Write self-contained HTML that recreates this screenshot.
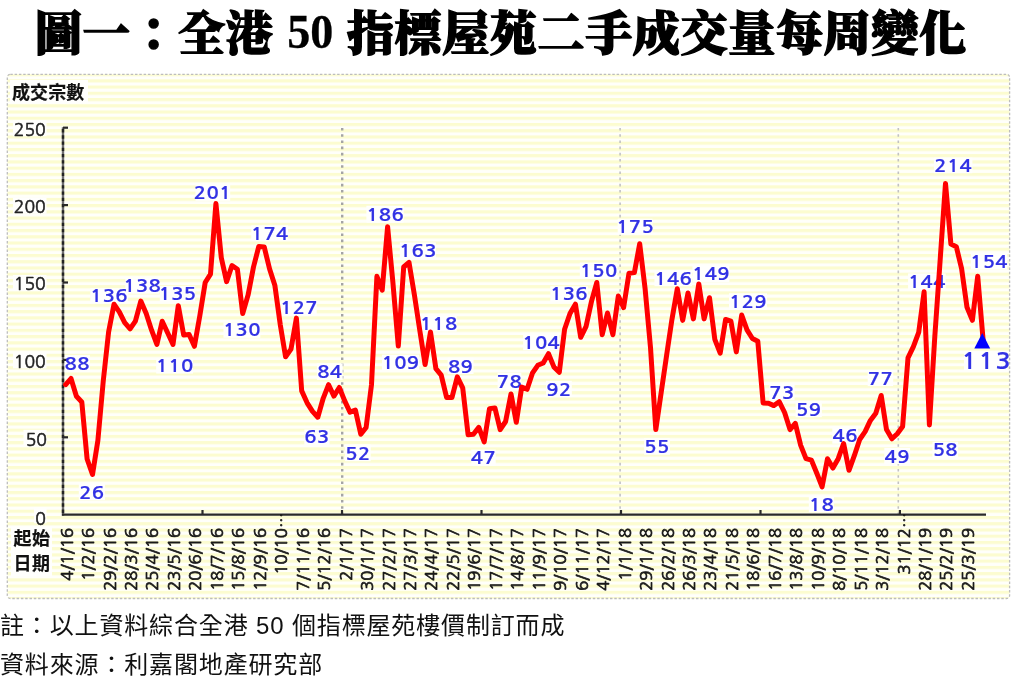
<!DOCTYPE html>
<html><head><meta charset="utf-8">
<style>
html,body{margin:0;padding:0;background:#fff;width:1024px;height:683px;overflow:hidden}
.t{position:absolute;left:0;top:0;white-space:nowrap}
#title{position:absolute;left:35px;top:-1.5px;font-family:"Liberation Serif","Noto Serif CJK TC","Noto Serif CJK SC",serif;font-weight:900;font-size:47px;line-height:70px;color:#000;white-space:nowrap;letter-spacing:0.68px;-webkit-text-stroke:1.5px #000}
#title .n{font-family:"Liberation Serif",serif;font-weight:bold;-webkit-text-stroke:0.3px #000;font-size:48.5px;display:inline-block;transform:scaleX(0.95);position:relative;top:-2px;letter-spacing:0}
.note{position:absolute;left:0px;font-family:"Liberation Sans","Noto Sans CJK TC","Noto Sans CJK SC",sans-serif;font-size:24px;line-height:30px;color:#111;white-space:nowrap;letter-spacing:0.85px}
svg{position:absolute;left:0;top:0}
</style></head><body>
<div id="title">圖一：全港 <span class="n">50</span> 指標屋苑二手成交量每周變化</div>
<svg width="1024" height="683" viewBox="0 0 1024 683">
<defs>
<pattern id="st" x="0" y="73.05" width="8" height="6.238" patternUnits="userSpaceOnUse">
<rect width="8" height="6.238" fill="#fffffa"/>
<rect y="0" width="8" height="3.1" fill="#fcfcd0"/>
</pattern>
</defs>
<rect x="7.3" y="74.3" width="1002.3" height="524.2" rx="3" fill="url(#st)" stroke="#bdbdbd" stroke-width="1.3" stroke-dasharray="2.5 1.8"/>
<g fill="#fffffd"><rect x="10" y="80" width="78" height="23"/><rect x="11" y="527" width="41" height="49"/></g>
<g font-family="'Liberation Sans','Noto Sans CJK TC','Noto Sans CJK SC',sans-serif" font-weight="bold" font-size="18" fill="#111" stroke="#111" stroke-width="0.2">
<text x="12" y="98.8" letter-spacing="0.1">成交宗數</text>
<text x="13.5" y="545" letter-spacing="0.4">起始</text>
<text x="13.5" y="570" letter-spacing="0.4">日期</text>
</g>
<g stroke-dasharray="2.6 3.6">
<line x1="342.2" y1="128" x2="342.2" y2="514" stroke="#a4a4a4" stroke-width="2.4"/>
<line x1="620.1" y1="128" x2="620.1" y2="514" stroke="#c2c2c2" stroke-width="1.6"/>
<line x1="898.3" y1="128" x2="898.3" y2="514" stroke="#c2c2c2" stroke-width="1.6"/>
</g>
<g fill="#fffffd"><rect x="64.5" y="355.2" width="25.5" height="16.5"/><rect x="78.8" y="483.2" width="26.1" height="16.9"/><rect x="90.3" y="288.3" width="37.5" height="14.9"/><rect x="125.4" y="278.1" width="33.9" height="15.6"/><rect x="159.8" y="286.1" width="35.4" height="15.6"/><rect x="156.2" y="357.9" width="36.8" height="15.6"/><rect x="195.5" y="184.3" width="34.7" height="16.5"/><rect x="223.5" y="322.3" width="36.8" height="15.5"/><rect x="251.3" y="225.4" width="36.8" height="15.6"/><rect x="281.3" y="300.3" width="35.4" height="15.6"/><rect x="304.4" y="429.4" width="25.1" height="15.5"/><rect x="316.9" y="363.4" width="25.8" height="16.4"/><rect x="345.1" y="444.3" width="25.6" height="16.9"/><rect x="366.4" y="205.8" width="37.3" height="16.8"/><rect x="382.0" y="354.7" width="37.1" height="15.6"/><rect x="399.8" y="242.4" width="36.1" height="16.3"/><rect x="420.6" y="315.9" width="36.1" height="15.6"/><rect x="447.7" y="357.6" width="25.8" height="16.4"/><rect x="471.3" y="449.6" width="24.4" height="16.1"/><rect x="497.6" y="372.7" width="23.7" height="16.3"/><rect x="546.0" y="380.8" width="25.8" height="16.3"/><rect x="523.2" y="334.6" width="36.1" height="15.6"/><rect x="550.3" y="286.3" width="37.5" height="15.5"/><rect x="579.8" y="262.6" width="37.6" height="15.6"/><rect x="617.7" y="218.7" width="34.8" height="16.1"/><rect x="644.2" y="438.2" width="25.7" height="16.5"/><rect x="654.5" y="270.7" width="37.5" height="15.5"/><rect x="692.5" y="265.5" width="36.9" height="16.4"/><rect x="729.0" y="293.3" width="38.0" height="16.2"/><rect x="769.3" y="383.2" width="25.2" height="16.9"/><rect x="795.6" y="400.8" width="26.2" height="16.4"/><rect x="808.8" y="495.9" width="25.1" height="16.3"/><rect x="832.3" y="427.4" width="25.8" height="16.3"/><rect x="867.7" y="369.8" width="25.5" height="16.3"/><rect x="884.3" y="447.9" width="25.8" height="16.3"/><rect x="908.1" y="273.4" width="37.6" height="15.9"/><rect x="932.5" y="441.8" width="25.6" height="15.7"/><rect x="933.9" y="157.6" width="38.5" height="15.6"/><rect x="970.8" y="253.5" width="36.4" height="15.9"/><rect x="964" y="351.5" width="44" height="19"/></g>
<g stroke="#2a2a2a" stroke-width="2.2">
<line x1="63" y1="127.2" x2="63" y2="515.8" stroke="#707070" stroke-width="2.4"/><line x1="63" y1="127.2" x2="63" y2="515.8" stroke="#242424" stroke-width="2.4" stroke-dasharray="3.3 2.938" stroke-dashoffset="4.35"/>
<line x1="61.9" y1="514.7" x2="986" y2="514.7"/>
<line x1="63" y1="437.3" x2="68" y2="437.3"/><line x1="63" y1="359.9" x2="68" y2="359.9"/><line x1="63" y1="282.5" x2="68" y2="282.5"/><line x1="63" y1="205.1" x2="68" y2="205.1"/><line x1="63" y1="127.7" x2="68" y2="127.7"/>
<line x1="202.5" y1="510" x2="202.5" y2="515"/><line x1="342.0" y1="510" x2="342.0" y2="515"/><line x1="481.5" y1="510" x2="481.5" y2="515"/><line x1="621.0" y1="510" x2="621.0" y2="515"/><line x1="760.5" y1="510" x2="760.5" y2="515"/><line x1="899.9" y1="510" x2="899.9" y2="515"/>
</g>
<g fill="#fffffd"><rect x="34.0" y="507.2" width="12.5" height="16"/><rect x="23.5" y="429.8" width="23.0" height="16"/><rect x="13.0" y="352.4" width="33.5" height="16"/><rect x="13.0" y="275.0" width="33.5" height="16"/><rect x="13.0" y="197.6" width="33.5" height="16"/><rect x="13.0" y="120.2" width="33.5" height="16"/></g>
<g font-family="'NanumGothic','Liberation Sans',sans-serif" font-size="17.6" fill="#222" stroke="#222" stroke-width="0.55">
<text transform="translate(45.8,524.8) scale(1.0,1)" text-anchor="end">0</text>
<text transform="translate(47.0,445.9) scale(1.0,1)" text-anchor="end">50</text>
<text transform="translate(45.8,367.8) scale(1.0,1)" text-anchor="end">100</text>
<text transform="translate(45.8,290.4) scale(1.0,1)" text-anchor="end">150</text>
<text transform="translate(45.8,213.0) scale(1.0,1)" text-anchor="end">200</text>
<text transform="translate(45.8,135.6) scale(1.0,1)" text-anchor="end">250</text>
</g>
<g font-family="'NanumGothic','Liberation Sans',sans-serif" font-size="16.6" fill="#1a1a1a" stroke="#1a1a1a" stroke-width="0.75">
<text transform="translate(66.7,528.0) rotate(-90) scale(1.0,1)" text-anchor="end" dy="0.36em">4/1/16</text>
<text transform="translate(88.1,528.0) rotate(-90) scale(1.0,1)" text-anchor="end" dy="0.36em">1/2/16</text>
<text transform="translate(109.6,528.0) rotate(-90) scale(1.0,1)" text-anchor="end" dy="0.36em">29/2/16</text>
<text transform="translate(131.1,528.0) rotate(-90) scale(1.0,1)" text-anchor="end" dy="0.36em">28/3/16</text>
<text transform="translate(152.5,528.0) rotate(-90) scale(1.0,1)" text-anchor="end" dy="0.36em">25/4/16</text>
<text transform="translate(174.0,528.0) rotate(-90) scale(1.0,1)" text-anchor="end" dy="0.36em">23/5/16</text>
<text transform="translate(195.4,528.0) rotate(-90) scale(1.0,1)" text-anchor="end" dy="0.36em">20/6/16</text>
<text transform="translate(216.9,528.0) rotate(-90) scale(1.0,1)" text-anchor="end" dy="0.36em">18/7/16</text>
<text transform="translate(238.4,528.0) rotate(-90) scale(1.0,1)" text-anchor="end" dy="0.36em">15/8/16</text>
<text transform="translate(259.8,528.0) rotate(-90) scale(1.0,1)" text-anchor="end" dy="0.36em">12/9/16</text>
<text transform="translate(281.3,512.5) rotate(-90) scale(1.0,1)" text-anchor="end" dy="0.36em">10/10…</text>
<text transform="translate(302.7,528.0) rotate(-90) scale(1.0,1)" text-anchor="end" dy="0.36em">7/11/16</text>
<text transform="translate(324.2,528.0) rotate(-90) scale(1.0,1)" text-anchor="end" dy="0.36em">5/12/16</text>
<text transform="translate(345.7,528.0) rotate(-90) scale(1.0,1)" text-anchor="end" dy="0.36em">2/1/17</text>
<text transform="translate(367.1,528.0) rotate(-90) scale(1.0,1)" text-anchor="end" dy="0.36em">30/1/17</text>
<text transform="translate(388.6,528.0) rotate(-90) scale(1.0,1)" text-anchor="end" dy="0.36em">27/2/17</text>
<text transform="translate(410.0,528.0) rotate(-90) scale(1.0,1)" text-anchor="end" dy="0.36em">27/3/17</text>
<text transform="translate(431.5,528.0) rotate(-90) scale(1.0,1)" text-anchor="end" dy="0.36em">24/4/17</text>
<text transform="translate(453.0,528.0) rotate(-90) scale(1.0,1)" text-anchor="end" dy="0.36em">22/5/17</text>
<text transform="translate(474.4,528.0) rotate(-90) scale(1.0,1)" text-anchor="end" dy="0.36em">19/6/17</text>
<text transform="translate(495.9,528.0) rotate(-90) scale(1.0,1)" text-anchor="end" dy="0.36em">17/7/17</text>
<text transform="translate(517.3,528.0) rotate(-90) scale(1.0,1)" text-anchor="end" dy="0.36em">14/8/17</text>
<text transform="translate(538.8,528.0) rotate(-90) scale(1.0,1)" text-anchor="end" dy="0.36em">11/9/17</text>
<text transform="translate(560.3,528.0) rotate(-90) scale(1.0,1)" text-anchor="end" dy="0.36em">9/10/17</text>
<text transform="translate(581.7,528.0) rotate(-90) scale(1.0,1)" text-anchor="end" dy="0.36em">6/11/17</text>
<text transform="translate(603.2,528.0) rotate(-90) scale(1.0,1)" text-anchor="end" dy="0.36em">4/12/17</text>
<text transform="translate(624.6,528.0) rotate(-90) scale(1.0,1)" text-anchor="end" dy="0.36em">1/1/18</text>
<text transform="translate(646.1,528.0) rotate(-90) scale(1.0,1)" text-anchor="end" dy="0.36em">29/1/18</text>
<text transform="translate(667.6,528.0) rotate(-90) scale(1.0,1)" text-anchor="end" dy="0.36em">26/2/18</text>
<text transform="translate(689.0,528.0) rotate(-90) scale(1.0,1)" text-anchor="end" dy="0.36em">26/3/18</text>
<text transform="translate(710.5,528.0) rotate(-90) scale(1.0,1)" text-anchor="end" dy="0.36em">23/4/18</text>
<text transform="translate(731.9,528.0) rotate(-90) scale(1.0,1)" text-anchor="end" dy="0.36em">21/5/18</text>
<text transform="translate(753.4,528.0) rotate(-90) scale(1.0,1)" text-anchor="end" dy="0.36em">18/6/18</text>
<text transform="translate(774.9,528.0) rotate(-90) scale(1.0,1)" text-anchor="end" dy="0.36em">16/7/18</text>
<text transform="translate(796.3,528.0) rotate(-90) scale(1.0,1)" text-anchor="end" dy="0.36em">13/8/18</text>
<text transform="translate(817.8,528.0) rotate(-90) scale(1.0,1)" text-anchor="end" dy="0.36em">10/9/18</text>
<text transform="translate(839.2,528.0) rotate(-90) scale(1.0,1)" text-anchor="end" dy="0.36em">8/10/18</text>
<text transform="translate(860.7,528.0) rotate(-90) scale(1.0,1)" text-anchor="end" dy="0.36em">5/11/18</text>
<text transform="translate(882.2,528.0) rotate(-90) scale(1.0,1)" text-anchor="end" dy="0.36em">3/12/18</text>
<text transform="translate(903.6,512.5) rotate(-90) scale(1.0,1)" text-anchor="end" dy="0.36em">31/12…</text>
<text transform="translate(925.1,528.0) rotate(-90) scale(1.0,1)" text-anchor="end" dy="0.36em">28/1/19</text>
<text transform="translate(946.5,528.0) rotate(-90) scale(1.0,1)" text-anchor="end" dy="0.36em">25/2/19</text>
<text transform="translate(968.0,528.0) rotate(-90) scale(1.0,1)" text-anchor="end" dy="0.36em">25/3/19</text>
</g>
<g font-family="'NanumGothic','Liberation Sans',sans-serif" font-weight="bold" font-size="16.9" fill="#3232e4" stroke="#3232e4" stroke-width="0.15" letter-spacing="0.3" text-anchor="middle">
<text transform="translate(77.2,370.2) scale(1.2,1)">88</text>
<text transform="translate(91.8,498.6) scale(1.2,1)">26</text>
<text transform="translate(109.0,301.7) scale(1.2,1)">136</text>
<text transform="translate(142.3,292.2) scale(1.2,1)">138</text>
<text transform="translate(177.5,300.2) scale(1.2,1)">135</text>
<text transform="translate(174.6,372.0) scale(1.2,1)">110</text>
<text transform="translate(212.8,199.3) scale(1.2,1)">201</text>
<text transform="translate(241.9,336.3) scale(1.2,1)">130</text>
<text transform="translate(269.7,239.5) scale(1.2,1)">174</text>
<text transform="translate(299.0,314.4) scale(1.2,1)">127</text>
<text transform="translate(317.0,443.4) scale(1.2,1)">63</text>
<text transform="translate(329.8,378.3) scale(1.2,1)">84</text>
<text transform="translate(357.9,459.7) scale(1.2,1)">52</text>
<text transform="translate(385.1,221.1) scale(1.2,1)">186</text>
<text transform="translate(400.5,368.8) scale(1.2,1)">109</text>
<text transform="translate(417.9,257.2) scale(1.2,1)">163</text>
<text transform="translate(438.6,330.0) scale(1.2,1)">118</text>
<text transform="translate(460.6,372.5) scale(1.2,1)">89</text>
<text transform="translate(483.5,464.2) scale(1.2,1)">47</text>
<text transform="translate(509.5,387.5) scale(1.2,1)">78</text>
<text transform="translate(558.9,395.6) scale(1.2,1)">92</text>
<text transform="translate(541.2,348.7) scale(1.2,1)">104</text>
<text transform="translate(569.0,300.3) scale(1.2,1)">136</text>
<text transform="translate(598.6,276.7) scale(1.2,1)">150</text>
<text transform="translate(635.1,233.3) scale(1.2,1)">175</text>
<text transform="translate(657.0,453.2) scale(1.2,1)">55</text>
<text transform="translate(673.2,284.7) scale(1.2,1)">146</text>
<text transform="translate(711.0,280.4) scale(1.2,1)">149</text>
<text transform="translate(748.0,308.0) scale(1.2,1)">129</text>
<text transform="translate(781.9,398.6) scale(1.2,1)">73</text>
<text transform="translate(808.7,415.7) scale(1.2,1)">59</text>
<text transform="translate(821.4,510.7) scale(1.2,1)">18</text>
<text transform="translate(845.2,442.2) scale(1.2,1)">46</text>
<text transform="translate(880.5,384.6) scale(1.2,1)">77</text>
<text transform="translate(897.2,462.7) scale(1.2,1)">49</text>
<text transform="translate(926.9,287.8) scale(1.2,1)">144</text>
<text transform="translate(945.3,456.0) scale(1.2,1)">58</text>
<text transform="translate(953.2,171.7) scale(1.2,1)">214</text>
<text transform="translate(989.0,267.9) scale(1.2,1)">154</text>
<text transform="translate(987,369.2) scale(1.13,1)" font-size="22.3" letter-spacing="1.5">113</text>
</g>
<polyline points="65.7,384.7 71.0,378.5 76.4,396.3 81.8,402.0 87.1,459.0 92.5,474.5 97.9,440.4 103.2,381.6 108.6,332.0 114.0,304.2 119.3,311.9 124.7,322.7 130.1,328.9 135.4,321.2 140.8,301.1 146.2,313.5 151.5,329.9 156.9,344.4 162.2,321.2 167.6,332.7 173.0,344.4 178.3,305.7 183.7,335.1 189.1,334.4 194.4,346.3 199.8,315.9 205.2,282.5 210.5,274.1 215.9,203.6 221.3,257.7 226.6,281.6 232.0,265.5 237.4,269.2 242.7,313.5 248.1,294.9 253.5,267.0 258.8,246.4 264.2,246.9 269.6,269.0 274.9,285.6 280.3,324.8 285.6,356.8 291.0,349.1 296.4,318.1 301.7,390.9 307.1,402.8 312.5,411.4 317.8,417.2 323.2,398.3 328.6,384.7 333.9,396.1 339.3,387.5 344.7,400.9 350.0,412.2 355.4,410.1 360.8,434.2 366.1,427.5 371.5,384.7 376.9,276.3 382.2,290.2 387.6,226.8 392.9,282.5 398.3,346.0 403.7,267.0 409.0,262.4 414.4,294.9 419.8,330.5 425.1,364.5 430.5,332.0 435.9,368.7 441.2,375.2 446.6,397.4 452.0,397.4 457.3,376.9 462.7,387.8 468.1,434.8 473.4,434.2 478.8,427.4 484.2,441.9 489.5,408.7 494.9,407.9 500.2,429.6 505.6,421.5 511.0,394.0 516.3,422.3 521.7,387.1 527.1,389.3 532.4,373.2 537.8,365.3 543.2,363.0 548.5,353.7 553.9,366.9 559.3,372.3 564.6,329.2 570.0,313.5 575.4,304.2 580.7,337.3 586.1,326.3 591.5,301.4 596.8,282.5 602.2,334.7 607.5,313.0 612.9,334.7 618.3,296.0 623.6,307.6 629.0,273.2 634.4,272.6 639.7,243.8 645.1,288.7 650.5,347.5 655.8,429.6 661.2,392.4 666.6,355.3 671.9,319.7 677.3,288.7 682.7,320.4 688.0,293.0 693.4,318.9 698.8,284.0 704.1,318.9 709.5,297.7 714.8,339.3 720.2,353.1 725.6,319.5 730.9,321.2 736.3,351.9 741.7,315.0 747.0,329.9 752.4,338.5 757.8,341.3 763.1,402.9 768.5,403.2 773.9,405.6 779.2,401.7 784.6,412.5 790.0,429.6 795.3,423.4 800.7,445.3 806.0,458.7 811.4,460.1 816.8,473.2 822.1,486.8 827.5,458.7 832.9,468.1 838.2,458.7 843.6,443.5 849.0,470.3 854.3,455.7 859.7,439.5 865.1,431.6 870.4,420.4 875.8,413.2 881.2,395.5 886.5,429.6 891.9,438.8 897.3,433.7 902.6,426.5 908.0,357.9 913.4,346.6 918.7,332.3 924.1,291.8 929.4,424.9 934.8,336.7 940.2,259.3 945.5,183.4 950.9,244.0 956.3,246.7 961.6,268.6 967.0,307.3 972.4,320.3 977.7,276.3 983.1,339.8" fill="none" stroke="#ff0000" stroke-width="5" stroke-linejoin="round" stroke-linecap="round"/>
<polygon points="982.3,333 974.3,348.5 990.2,348.5" fill="#0000ff"/>
</svg>
<div class="note" style="top:611px">註：以上資料綜合全港 50 個指標屋苑樓價制訂而成</div>
<div class="note" style="top:649.5px">資料來源：利嘉閣地產研究部</div>
</body></html>
